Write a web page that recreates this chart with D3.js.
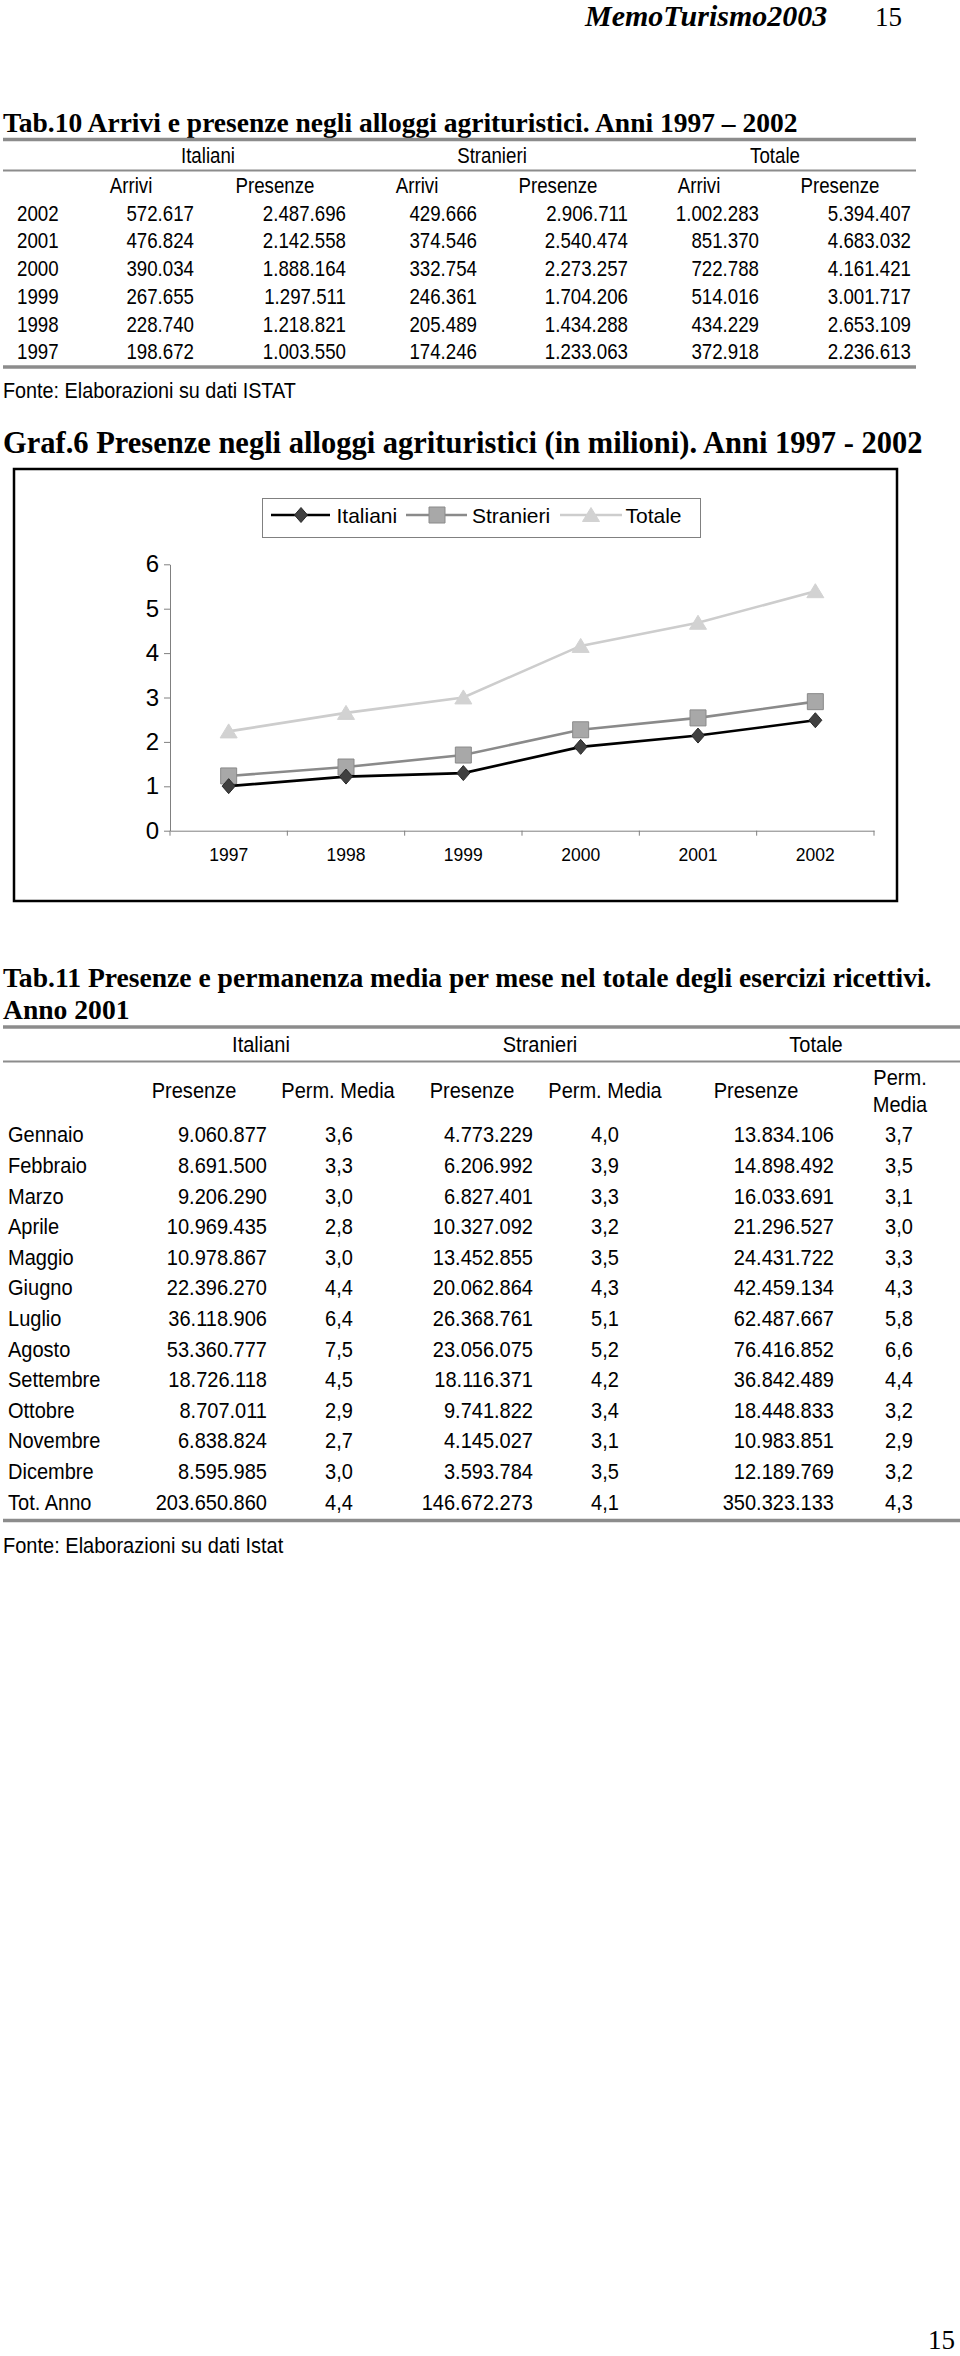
<!DOCTYPE html>
<html>
<head>
<meta charset="utf-8">
<script src="https://cdn.jsdelivr.net/npm/d3@7"></script>
<style>
  body { margin: 0; background: #fff; }
  svg { display: block; }
</style>
</head>
<body>
<div id="page"></div>
<script>
// ---- Tab.10 data (one value per year, 2002 -> 1997)
var anni = ["2002", "2001", "2000", "1999", "1998", "1997"];
var itaArrivi = [572617, 476824, 390034, 267655, 228740, 198672];
var itaPresenze = [2487696, 2142558, 1888164, 1297511, 1218821, 1003550];
var strArrivi = [429666, 374546, 332754, 246361, 205489, 174246];
var strPresenze = [2906711, 2540474, 2273257, 1704206, 1434288, 1233063];
var totArrivi = [1002283, 851370, 722788, 514016, 434229, 372918];
var totPresenze = [5394407, 4683032, 4161421, 3001717, 2653109, 2236613];

// ---- Graf.6 ticks
var yTicks = [0, 1, 2, 3, 4, 5, 6];

// ---- Tab.11 data
var mesi = ["Gennaio", "Febbraio", "Marzo", "Aprile", "Maggio", "Giugno", "Luglio",
  "Agosto", "Settembre", "Ottobre", "Novembre", "Dicembre", "Tot. Anno"];
var itaPres11 = [9060877, 8691500, 9206290, 10969435, 10978867, 22396270, 36118906,
  53360777, 18726118, 8707011, 6838824, 8595985, 203650860];
var itaPerm11 = [3.6, 3.3, 3.0, 2.8, 3.0, 4.4, 6.4, 7.5, 4.5, 2.9, 2.7, 3.0, 4.4];
var strPres11 = [4773229, 6206992, 6827401, 10327092, 13452855, 20062864, 26368761,
  23056075, 18116371, 9741822, 4145027, 3593784, 146672273];
var strPerm11 = [4.0, 3.9, 3.3, 3.2, 3.5, 4.3, 5.1, 5.2, 4.2, 3.4, 3.1, 3.5, 4.1];
var totPres11 = [13834106, 14898492, 16033691, 21296527, 24431722, 42459134, 62487667,
  76416852, 36842489, 18448833, 10983851, 12189769, 350323133];
var totPerm11 = [3.7, 3.5, 3.1, 3.0, 3.3, 4.3, 5.8, 6.6, 4.4, 3.2, 2.9, 3.2, 4.3];

var W = 960, H = 2356;
var serif = "'Liberation Serif','Times New Roman',serif";
var sans = "'Liberation Sans',Arial,Helvetica,sans-serif";
var ruleColor = "#8c8c8c";

var loc = d3.formatLocale({ decimal: ",", thousands: ".", grouping: [3], currency: ["", ""] });
var fInt = loc.format(",d");
var fDec = loc.format(".1f");

var svg = d3.select("#page").append("svg")
  .attr("width", W)
  .attr("height", H);

svg.append("rect").attr("width", W).attr("height", H).attr("fill", "#fff");

// text helper, sx squeezes the sans text like the original narrow face
function txt(parent, x, y, s, o) {
  o = o || {};
  return parent.append("text")
    .attr("transform", "translate(" + x + "," + y + ") scale(" + (o.sx || 1) + ",1)")
    .attr("text-anchor", o.anchor || "start")
    .style("font-family", o.font || sans)
    .style("font-size", (o.size || 22) + "px")
    .style("font-weight", o.weight || "normal")
    .style("font-style", o.style || "normal")
    .attr("fill", "#000")
    .text(s);
}

function rule(y, x1, x2, w) {
  svg.append("line")
    .attr("x1", x1).attr("x2", x2)
    .attr("y1", y).attr("y2", y)
    .attr("stroke", ruleColor)
    .attr("stroke-width", w);
}

// header / footer
txt(svg, 585, 26, "MemoTurismo2003", { font: serif, size: 30, weight: "bold", style: "italic" });
txt(svg, 875, 26, "15", { font: serif, size: 27 });
txt(svg, 955, 2349, "15", { font: serif, size: 27, anchor: "end" });

// ================= Tab.10 =================
txt(svg, 3, 132, "Tab.10 Arrivi e presenze negli alloggi agrituristici. Anni 1997 \u2013 2002",
  { font: serif, size: 27.5, weight: "bold" });
rule(139.5, 3, 916, 3.5);
[["Italiani", 208], ["Stranieri", 492], ["Totale", 775]].forEach(function (g) {
  txt(svg, g[1], 163, g[0], { anchor: "middle", size: 22, sx: 0.85 });
});
rule(170.5, 3, 916, 2);

var cols10 = [itaArrivi, itaPresenze, strArrivi, strPresenze, totArrivi, totPresenze];
var head10 = ["Arrivi", "Presenze", "Arrivi", "Presenze", "Arrivi", "Presenze"];
var headX10 = [131, 275, 417, 558, 699, 840];
var rightX10 = [194, 346, 477, 628, 759, 911];
head10.forEach(function (h, i) {
  txt(svg, headX10[i], 193, h, { anchor: "middle", size: 22, sx: 0.85 });
});

var rowY10 = d3.scalePoint().domain(anni).range([220.7, 359.3]);
var rows10 = svg.append("g").selectAll("g").data(anni).enter().append("g");
rows10.each(function (yr, r) {
  var g = d3.select(this);
  txt(g, 17, rowY10(yr), yr, { size: 22, sx: 0.85 });
  cols10.forEach(function (col, c) {
    txt(g, rightX10[c], rowY10(yr), fInt(col[r]), { anchor: "end", size: 22, sx: 0.85 });
  });
});
rule(367, 3, 916, 3.5);
txt(svg, 3, 398, "Fonte: Elaborazioni su dati ISTAT", { size: 22, sx: 0.9 });

// ================= Graf.6 =================
txt(svg, 3, 453, "Graf.6 Presenze negli alloggi agrituristici (in milioni). Anni 1997 - 2002",
  { font: serif, size: 30.5, weight: "bold" });

svg.append("rect")
  .attr("x", 14).attr("y", 469)
  .attr("width", 883).attr("height", 432)
  .attr("fill", "#fff")
  .attr("stroke", "#000")
  .attr("stroke-width", 2.5);

var chartYears = anni.slice().reverse();
var diamond = { draw: function (c) { c.moveTo(0, -7.5); c.lineTo(6.5, 0); c.lineTo(0, 7.5); c.lineTo(-6.5, 0); c.closePath(); } };
var square = { draw: function (c) { c.rect(-8, -8, 16, 16); } };
var triangle = { draw: function (c) { c.moveTo(0, -7.5); c.lineTo(8.5, 6.5); c.lineTo(-8.5, 6.5); c.closePath(); } };

var series = [
  { name: "Italiani", values: itaPresenze.slice().reverse(), line: "#000", fill: "#404040", stroke: "#2a2a2a", shape: diamond },
  { name: "Stranieri", values: strPresenze.slice().reverse(), line: "#8a8a8a", fill: "#a8a8a8", stroke: "#8a8a8a", shape: square },
  { name: "Totale", values: totPresenze.slice().reverse(), line: "#cdcdcd", fill: "#d2d2d2", stroke: "#d2d2d2", shape: triangle }
];

var x = d3.scaleBand().domain(chartYears).range([170, 874]);
var y = d3.scaleLinear().domain([0, 6]).range([830.7, 564.3]);

// y axis
var gy = svg.append("g")
  .attr("transform", "translate(170,0)")
  .call(d3.axisLeft(y).tickValues(yTicks).tickFormat(d3.format("d"))
    .tickSize(6).tickSizeOuter(0).tickPadding(5));
gy.select(".domain").attr("stroke", "#808080");
gy.selectAll(".tick line").attr("stroke", "#808080");
gy.selectAll(".tick text")
  .style("font-family", sans).style("font-size", "24px").attr("fill", "#000");

// x axis (labels centred on the bands, ticks on band edges)
var gx = svg.append("g")
  .attr("transform", "translate(0," + y(0) + ")")
  .call(d3.axisBottom(x).tickSize(0).tickSizeOuter(0));
gx.select(".domain").attr("stroke", "#808080");
gx.selectAll(".tick text")
  .attr("dy", null).attr("y", 30.5)
  .style("font-family", sans).style("font-size", "17.5px").attr("fill", "#000");
var edges = [x.range()[0]].concat(chartYears.map(function (d) { return x(d) + x.bandwidth(); }));
gx.selectAll(".edge").data(edges).enter().append("line")
  .attr("class", "edge")
  .attr("x1", function (d) { return d; }).attr("x2", function (d) { return d; })
  .attr("y1", 0).attr("y2", 5)
  .attr("stroke", "#808080");

var line = d3.line()
  .x(function (d, i) { return x(chartYears[i]) + x.bandwidth() / 2; })
  .y(function (d) { return y(d / 1e6); });

// draw lighter series first so Italiani stays on top
series.slice().reverse().forEach(function (s) {
  svg.append("path")
    .datum(s.values)
    .attr("d", line)
    .attr("fill", "none")
    .attr("stroke", s.line)
    .attr("stroke-width", 2.6);
  svg.append("g").selectAll("path").data(s.values).enter().append("path")
    .attr("d", d3.symbol().type(s.shape))
    .attr("transform", function (d, i) {
      return "translate(" + (x(chartYears[i]) + x.bandwidth() / 2) + "," + y(d / 1e6) + ")";
    })
    .attr("fill", s.fill)
    .attr("stroke", s.stroke)
    .attr("stroke-width", 1);
});

// legend
var lg = svg.append("g");
lg.append("rect")
  .attr("x", 262.5).attr("y", 498.5)
  .attr("width", 438).attr("height", 39)
  .attr("fill", "#fff")
  .attr("stroke", "#808080");
var legendPos = [[271, 330, 301, 336.5], [406, 467, 437, 472], [560, 622, 591, 625.5]];
series.forEach(function (s, i) {
  var p = legendPos[i];
  lg.append("line")
    .attr("x1", p[0]).attr("x2", p[1]).attr("y1", 515).attr("y2", 515)
    .attr("stroke", s.line).attr("stroke-width", 2.6);
  lg.append("path")
    .attr("d", d3.symbol().type(s.shape))
    .attr("transform", "translate(" + p[2] + ",515)")
    .attr("fill", s.fill).attr("stroke", s.stroke);
  txt(lg, p[3], 522.7, s.name, { size: 21 });
});

// ================= Tab.11 =================
txt(svg, 3, 987, "Tab.11 Presenze e permanenza media per mese nel totale degli esercizi ricettivi.",
  { font: serif, size: 27.6, weight: "bold" });
txt(svg, 3, 1018.5, "Anno 2001", { font: serif, size: 27.6, weight: "bold" });
rule(1027, 3, 960, 3.5);
[["Italiani", 261], ["Stranieri", 540], ["Totale", 816]].forEach(function (g) {
  txt(svg, g[1], 1052, g[0], { anchor: "middle", size: 22.5, sx: 0.89 });
});
rule(1061.5, 3, 960, 2);

var head11 = ["Presenze", "Perm. Media", "Presenze", "Perm. Media", "Presenze"];
var headX11 = [194, 338, 472, 605, 756];
head11.forEach(function (h, i) {
  txt(svg, headX11[i], 1098, h, { anchor: "middle", size: 22.5, sx: 0.89 });
});
txt(svg, 900, 1085, "Perm.", { anchor: "middle", size: 22.5, sx: 0.89 });
txt(svg, 900, 1112, "Media", { anchor: "middle", size: 22.5, sx: 0.89 });

var cols11 = [
  { v: itaPres11, f: fInt, x: 267, a: "end" },
  { v: itaPerm11, f: fDec, x: 339, a: "middle" },
  { v: strPres11, f: fInt, x: 533, a: "end" },
  { v: strPerm11, f: fDec, x: 605, a: "middle" },
  { v: totPres11, f: fInt, x: 834, a: "end" },
  { v: totPerm11, f: fDec, x: 899, a: "middle" }
];
var rowY11 = d3.scalePoint().domain(mesi).range([1142.3, 1509.5]);
var rows11 = svg.append("g").selectAll("g").data(mesi).enter().append("g");
rows11.each(function (m, r) {
  var g = d3.select(this);
  txt(g, 8, rowY11(m), m, { size: 22.5, sx: 0.89 });
  cols11.forEach(function (c) {
    txt(g, c.x, rowY11(m), c.f(c.v[r]), { anchor: c.a, size: 22.5, sx: 0.89 });
  });
});
rule(1520.5, 3, 960, 3.5);
txt(svg, 3, 1553, "Fonte: Elaborazioni su dati Istat", { size: 22.5, sx: 0.89 });
</script>
</body>
</html>
